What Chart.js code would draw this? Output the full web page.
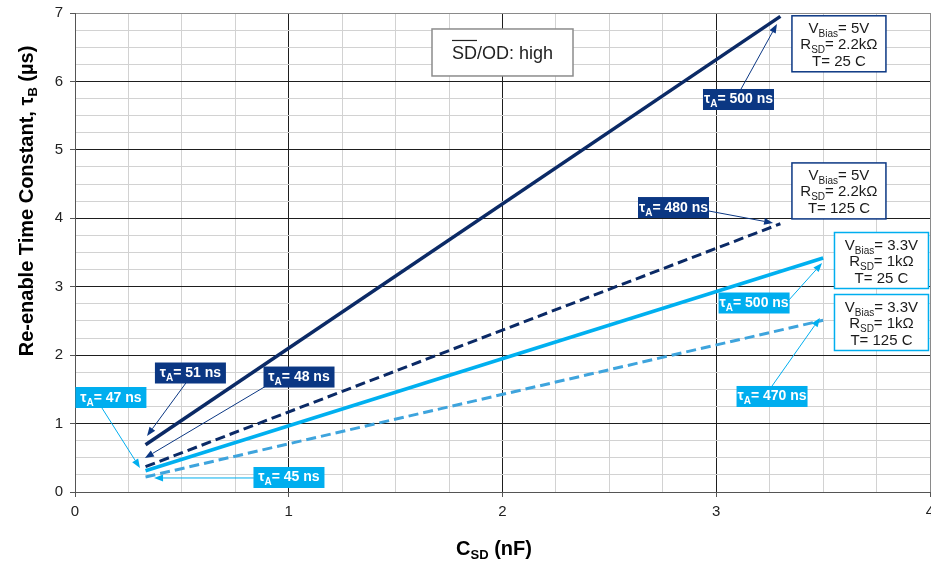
<!DOCTYPE html>
<html>
<head>
<meta charset="utf-8">
<script src="https://cdn.jsdelivr.net/npm/chart.js@4/dist/chart.umd.min.js"></script>
<style>
  html, body { margin: 0; padding: 0; background: #fff; overflow: hidden; }
  #wrap { width: 931px; height: 562px; overflow: hidden; }
</style>
</head>
<body>
<div id="wrap"><canvas id="c" width="940" height="562"></canvas></div>
<script>
// C_SD (nF) for each curve
const cSd5V = [0.33, 3.3];
const cSd33V = [0.33, 3.5];
// tau_B (us)
const tauB5V25C = [0.69, 6.95];
const tauB5V125C = [0.37, 3.92];
const tauB33V25C = [0.31, 3.42];
const tauB33V125C = [0.22, 2.51];
const xTicks = [0, 1, 2, 3, 4];
const yTicks = [0, 1, 2, 3, 4, 5, 6, 7];

const NAVY = '#0b2a66';
const NAVY_BOX = '#0b3783';
const CYAN = '#00b0f0';
const CYAN_DASH = '#3ea4dd';
const CYAN_BOX = '#00aeef';
const FONT = '"Liberation Sans", Arial, sans-serif';

// tau_A call-outs: box centre and arrow, in data units
const tauLabels = [
  { t: '500 ns', c: NAVY_BOX, at: [3.104, 5.736], from: [3.116, 5.889], to: [3.284, 6.839] },
  { t: '480 ns', c: NAVY_BOX, at: [2.800, 4.157], from: [2.966, 4.106], to: [3.266, 3.931] },
  { t: '500 ns', c: CYAN_BOX, at: [3.177, 2.762], from: [3.340, 2.806], to: [3.495, 3.346] },
  { t: '470 ns', c: CYAN_BOX, at: [3.261, 1.396], from: [3.261, 1.549], to: [3.485, 2.543] },
  { t: '51 ns', c: NAVY_BOX, at: [0.540, 1.739], from: [0.519, 1.593], to: [0.337, 0.818] },
  { t: '48 ns', c: NAVY_BOX, at: [1.048, 1.680], from: [0.894, 1.549], to: [0.327, 0.497] },
  { t: '47 ns', c: CYAN_BOX, at: [0.168, 1.381], from: [0.126, 1.228], to: [0.304, 0.351] },
  { t: '45 ns', c: CYAN_BOX, at: [1.001, 0.212], from: [0.837, 0.205], to: [0.370, 0.205] }
];

// condition boxes
const condBoxes = [
  { c: NAVY_BOX, at: [3.574, 6.55], v: '5V', r: '2.2kΩ', temp: '25' },
  { c: NAVY_BOX, at: [3.574, 4.40], v: '5V', r: '2.2kΩ', temp: '125' },
  { c: CYAN_BOX, at: [3.773, 3.383], v: '3.3V', r: '1kΩ', temp: '25' },
  { c: CYAN_BOX, at: [3.773, 2.477], v: '3.3V', r: '1kΩ', temp: '125' }
];

function pts(xs, ys) {
  return xs.map((x, i) => ({ x: x, y: ys[i] }));
}

function drawRich(ctx, segs, x, y, align) {
  let w = 0;
  segs.forEach(s => { ctx.font = s.f; s.w = ctx.measureText(s.t).width; w += s.w; });
  let cx = align === 'center' ? x - w / 2 : x;
  segs.forEach(s => { ctx.font = s.f; ctx.fillText(s.t, cx, y + (s.dy || 0)); cx += s.w; });
  return w;
}

function arrow(ctx, x1, y1, x2, y2, color) {
  const a = Math.atan2(y2 - y1, x2 - x1), L = 9, W = 3.5;
  const bx = x2 - L * Math.cos(a), by = y2 - L * Math.sin(a);
  ctx.strokeStyle = color;
  ctx.fillStyle = color;
  ctx.lineWidth = 1;
  ctx.beginPath(); ctx.moveTo(x1, y1); ctx.lineTo(bx, by); ctx.stroke();
  ctx.beginPath();
  ctx.moveTo(x2, y2);
  ctx.lineTo(bx + W * Math.sin(a), by - W * Math.cos(a));
  ctx.lineTo(bx - W * Math.sin(a), by + W * Math.cos(a));
  ctx.closePath();
  ctx.fill();
}

const annotations = {
  id: 'annotations',
  afterDatasetsDraw(chart) {
    const ctx = chart.ctx, xs = chart.scales.x, ys = chart.scales.y;
    const px = v => xs.getPixelForValue(v), py = v => ys.getPixelForValue(v);
    ctx.save();
    ctx.textBaseline = 'alphabetic';

    // SD/OD box
    const sx = px(2.0), sy = py(6.423);
    ctx.fillStyle = '#fff';
    ctx.fillRect(sx - 70.5, sy - 23.5, 141, 47);
    ctx.strokeStyle = '#8c8c8c';
    ctx.lineWidth = 1.5;
    ctx.strokeRect(sx - 70.5, sy - 23.5, 141, 47);
    ctx.fillStyle = '#222';
    ctx.font = '18px ' + FONT;
    const full = ctx.measureText('SD/OD: high').width, sdW = ctx.measureText('SD').width;
    const tx = sx - full / 2;
    ctx.fillText('SD/OD: high', tx, sy + 7);
    ctx.strokeStyle = '#222';
    ctx.lineWidth = 1.2;
    ctx.beginPath(); ctx.moveTo(tx, sy - 12); ctx.lineTo(tx + sdW, sy - 12); ctx.stroke();

    // condition boxes
    condBoxes.forEach(b => {
      const cx = px(b.at[0]), cy = py(b.at[1]);
      ctx.fillStyle = '#fff';
      ctx.fillRect(cx - 47, cy - 28, 94, 56);
      ctx.strokeStyle = b.c;
      ctx.lineWidth = 1.5;
      ctx.strokeRect(cx - 47, cy - 28, 94, 56);
      ctx.fillStyle = '#1a1a1a';
      const f = '15px ' + FONT, fs = '10px ' + FONT;
      drawRich(ctx, [{ t: 'V', f: f }, { t: 'Bias', f: fs, dy: 4 }, { t: '= ' + b.v, f: f }], cx, cy - 11, 'center');
      drawRich(ctx, [{ t: 'R', f: f }, { t: 'SD', f: fs, dy: 4 }, { t: '= ' + b.r, f: f }], cx, cy + 5, 'center');
      drawRich(ctx, [{ t: 'T= ' + b.temp + ' C', f: f }], cx, cy + 22, 'center');
    });

    // tau_A call-outs
    tauLabels.forEach(l => {
      arrow(ctx, px(l.from[0]), py(l.from[1]), px(l.to[0]), py(l.to[1]), l.c);
    });
    tauLabels.forEach(l => {
      const cx = px(l.at[0]), cy = py(l.at[1]);
      ctx.fillStyle = l.c;
      ctx.fillRect(cx - 35.5, cy - 10.5, 71, 21);
      ctx.fillStyle = '#fff';
      const f = 'bold 14px ' + FONT, fs = 'bold 10px ' + FONT;
      drawRich(ctx, [{ t: 'τ', f: f }, { t: 'A', f: fs, dy: 4 }, { t: '= ' + l.t, f: f }], cx, cy + 4, 'center');
    });

    ctx.restore();
  },
  afterDraw(chart) {
    const ctx = chart.ctx;
    ctx.save();
    ctx.fillStyle = '#000';
    ctx.textBaseline = 'alphabetic';
    const f = 'bold 20px ' + FONT, fs = 'bold 13px ' + FONT;
    // x title
    drawRich(ctx, [{ t: 'C', f: f }, { t: 'SD', f: fs, dy: 4 }, { t: ' (nF)', f: f }], 494, 555, 'center');
    // y title
    ctx.translate(33, 201);
    ctx.rotate(-Math.PI / 2);
    drawRich(ctx, [{ t: 'Re-enable Time Constant, τ', f: f }, { t: 'B', f: fs, dy: 4 }, { t: ' (µs)', f: f }], 0, 0, 'center');
    ctx.restore();
  }
};

function gridColor(ctx, max) {
  const v = ctx.tick.value;
  if (v === 0) return '#555';
  if (v === max) return '#8a8a8a';
  return Number.isInteger(v) ? '#1e1e1e' : '#d2d2d2';
}

new Chart(document.getElementById('c'), {
  type: 'scatter',
  data: {
    datasets: [
      { label: '5V, 25 C', data: pts(cSd5V, tauB5V25C), borderColor: NAVY, borderWidth: 3.5 },
      { label: '5V, 125 C', data: pts(cSd5V, tauB5V125C), borderColor: NAVY, borderWidth: 3, borderDash: [10, 5] },
      { label: '3.3V, 25 C', data: pts(cSd33V, tauB33V25C), borderColor: CYAN, borderWidth: 3.5 },
      { label: '3.3V, 125 C', data: pts(cSd33V, tauB33V125C), borderColor: CYAN_DASH, borderWidth: 3, borderDash: [10, 5] }
    ].map(d => Object.assign(d, { showLine: true, pointRadius: 0, fill: false, tension: 0 }))
  },
  options: {
    responsive: false,
    animation: false,
    devicePixelRatio: 1,
    layout: { padding: { left: 15, right: 10, top: 13, bottom: 0 } },
    plugins: { legend: { display: false }, tooltip: { enabled: false } },
    scales: {
      x: {
        type: 'linear',
        min: 0,
        max: 4,
        afterFit(s) { s.height = 70; s.paddingLeft = 0; s.paddingRight = 0; },
        ticks: {
          stepSize: 0.25,
          autoSkip: false,
          maxRotation: 0,
          padding: 6,
          color: '#222',
          font: { family: FONT, size: 15 },
          callback: v => xTicks.includes(v) ? String(v) : ''
        },
        grid: {
          color: c => gridColor(c, 4),
          tickLength: 5,
          tickColor: c => Number.isInteger(c.tick.value) ? '#555' : 'rgba(0,0,0,0)'
        },
        border: { color: '#555', width: 1 }
      },
      y: {
        min: 0,
        max: 7,
        afterFit(s) { s.width = 60; s.paddingTop = 0; s.paddingBottom = 0; },
        ticks: {
          stepSize: 0.25,
          autoSkip: false,
          padding: 7,
          color: '#222',
          font: { family: FONT, size: 15 },
          callback: v => yTicks.includes(v) ? String(v) : ''
        },
        grid: {
          color: c => gridColor(c, 7),
          tickLength: 5,
          tickColor: c => Number.isInteger(c.tick.value) ? '#555' : 'rgba(0,0,0,0)'
        },
        border: { color: '#555', width: 1 }
      }
    }
  },
  plugins: [annotations]
});
</script>
</body>
</html>
